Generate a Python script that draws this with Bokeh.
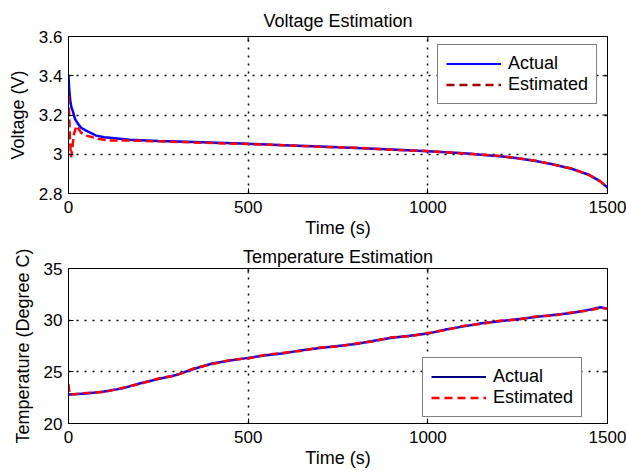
import math
from bokeh.plotting import figure
from bokeh.layouts import column
from bokeh.models import (FixedTicker, CustomJSTickFormatter, Legend,
                          LegendItem, Range1d, Title)
from bokeh.embed import file_html
from bokeh.resources import INLINE

# ---------------- data ----------------
v_time_act = [0, 2, 5, 8, 12, 18, 26, 35, 49, 77, 100, 170, 250, 350, 500,
              600, 700, 800, 900, 1000, 1100, 1200, 1250, 1300, 1350, 1400, 1450, 1480, 1500]
v_act = [3.40, 3.33, 3.27, 3.24, 3.22, 3.18, 3.156, 3.135, 3.12, 3.095, 3.087, 3.074,
         3.068, 3.062, 3.053, 3.046, 3.039, 3.032, 3.024, 3.015, 3.005, 2.99, 2.98,
         2.966, 2.948, 2.926, 2.894, 2.862, 2.83]

v_time_est = [0, 2, 4, 7, 10, 15, 22, 28, 35, 50, 80, 110, 150, 200, 250, 350, 500,
              600, 700, 800, 900, 1000, 1100, 1200, 1250, 1300, 1350, 1400, 1450, 1480, 1500]
v_est = [3.30, 3.20, 3.08, 2.985, 3.02, 3.10, 3.145, 3.13, 3.11, 3.095, 3.08, 3.07,
         3.07, 3.069, 3.066, 3.06, 3.052, 3.046, 3.038, 3.033, 3.023, 3.016, 3.004,
         2.991, 2.979, 2.967, 2.947, 2.927, 2.893, 2.862, 2.83]

t_time = [0, 3, 50, 100, 150, 200, 250, 300, 350, 400, 450, 500, 550, 600, 650, 700,
          750, 800, 850, 900, 950, 1000, 1050, 1100, 1150, 1200, 1250, 1300, 1350,
          1400, 1450, 1480, 1500]
t_act = [22.8, 22.8, 22.9, 23.1, 23.4, 23.9, 24.3, 24.7, 25.3, 25.8, 26.1, 26.35, 26.6,
         26.8, 27.1, 27.3, 27.5, 27.7, 28.0, 28.3, 28.5, 28.7, 29.1, 29.4, 29.7, 29.9,
         30.1, 30.3, 30.5, 30.7, 31.0, 31.25, 31.1]
t_est = [23.8, 22.8, 22.95, 23.05, 23.45, 23.85, 24.35, 24.65, 25.35, 25.75, 26.15,
         26.3, 26.65, 26.85, 27.05, 27.35, 27.45, 27.75, 27.95, 28.35, 28.45, 28.75,
         29.05, 29.45, 29.65, 29.95, 30.05, 30.35, 30.45, 30.75, 30.95, 31.2, 31.1]

x_ticks = [0, 500, 1000, 1500]
v_ticks = [2.8, 3.0, 3.2, 3.4, 3.6]
t_ticks = [20, 25, 30, 35]

FONT = "Liberation Sans"
fmt = CustomJSTickFormatter(code="return String(Math.round(tick*10)/10)")


def make_title(text, standoff, valign="bottom"):
    return Title(text=text, align="center", text_font=FONT, text_font_size="18px",
                 text_font_style="normal", text_color="black", standoff=standoff,
                 vertical_align=valign)


def style(p, yticks, ylabel, xmax, ymax):
    p.outline_line_color = "black"
    p.outline_line_width = 1
    for ax in p.axis:
        ax.major_label_text_font = FONT
        ax.major_label_text_font_size = "17px"
        ax.major_label_text_color = "black"
        ax.axis_label_text_font = FONT
        ax.axis_label_text_font_size = "18px"
        ax.axis_label_text_font_style = "normal"
        ax.axis_label_text_color = "black"
        ax.axis_line_color = "black"
        ax.major_tick_line_color = "black"
        ax.major_tick_in = 5
        ax.major_tick_out = 0
        ax.minor_tick_line_color = None
        ax.formatter = fmt
    p.xaxis.ticker = FixedTicker(ticks=x_ticks)
    p.yaxis.ticker = FixedTicker(ticks=yticks)
    p.xaxis.axis_label = "Time (s)"
    p.yaxis.axis_label = ylabel
    p.xaxis.major_label_standoff = 7
    p.yaxis.major_label_standoff = 6
    p.xaxis.axis_label_standoff = 2
    p.yaxis.axis_label_standoff = 8
    p.xgrid.ticker = FixedTicker(ticks=x_ticks)
    p.ygrid.ticker = FixedTicker(ticks=yticks)
    p.grid.grid_line_color = "black"
    p.grid.grid_line_dash = "2 6"
    p.grid.grid_line_width = 1.5
    p.grid.grid_line_alpha = 1.0
    # right & top inward tick marks (MATLAB box)
    p.scatter([xmax] * len(yticks), yticks, marker="dash", size=10,
              line_color="black", line_width=1)
    p.scatter(x_ticks, [ymax] * len(x_ticks), marker="dash", size=10, angle=math.pi / 2,
              line_color="black", line_width=1)


# ---------------- top: voltage ----------------
p1 = figure(width=626, height=240, output_backend="svg", toolbar_location=None,
            x_range=Range1d(0, 1500), y_range=Range1d(2.8, 3.6),
            min_border_left=68, min_border_right=19, min_border_top=36, min_border_bottom=47)
p1.title = make_title("Voltage Estimation", 12)
style(p1, v_ticks, "Voltage (V)", 1500, 3.6)
p1.line(v_time_act, v_act, line_color="#0000ff", line_width=2.5)
p1.line(v_time_est, v_est, line_color="#ff0000", line_width=2.5, line_dash="8 4")
lg1a = p1.line([-200, -100], [3.0, 3.0], line_color="#0000ff", line_width=2)
lg1b = p1.line([-200, -100], [3.0, 3.0], line_color="#a00000", line_width=2.5,
               line_dash="8 5")
leg1 = Legend(items=[LegendItem(label="Actual", renderers=[lg1a]),
                     LegendItem(label="Estimated", renderers=[lg1b])],
              location=(369, 89), orientation="vertical")

# ---------------- bottom: temperature ----------------
p2 = figure(width=626, height=236, output_backend="svg", toolbar_location=None,
            x_range=Range1d(0, 1500), y_range=Range1d(20, 35),
            min_border_left=68, min_border_right=19, min_border_top=28, min_border_bottom=53)
p2.title = make_title("Temperature Estimation", 0, "top")
style(p2, t_ticks, "Temperature (Degree C)", 1500, 35)
p2.line(t_time, t_act, line_color="#0000ff", line_width=2.5)
p2.line(t_time, t_est, line_color="#ff0000", line_width=2.5, line_dash="8 4")
lg2a = p2.line([-200, -100], [25, 25], line_color="#000080", line_width=2)
lg2b = p2.line([-200, -100], [25, 25], line_color="#ff0000", line_width=2.5,
               line_dash="8 5")
leg2 = Legend(items=[LegendItem(label="Actual", renderers=[lg2a]),
                     LegendItem(label="Estimated", renderers=[lg2b])],
              location=(354, 6), orientation="vertical")

for lg in (leg1, leg2):
    lg.label_text_font = FONT
    lg.label_text_font_size = "18px"
    lg.label_text_color = "black"
    lg.border_line_color = "black"
    lg.border_line_width = 1
    lg.background_fill_color = "white"
    lg.background_fill_alpha = 1
    lg.glyph_width = 55
    lg.glyph_height = 21
    lg.label_standoff = 7
    lg.label_height = 21
    lg.spacing = 0
    lg.padding = 8
    lg.margin = 0

p1.add_layout(leg1, "center")
p2.add_layout(leg2, "center")

layout = column(p1, p2, spacing=0)
open("out.html", "w").write(file_html(layout, INLINE))
